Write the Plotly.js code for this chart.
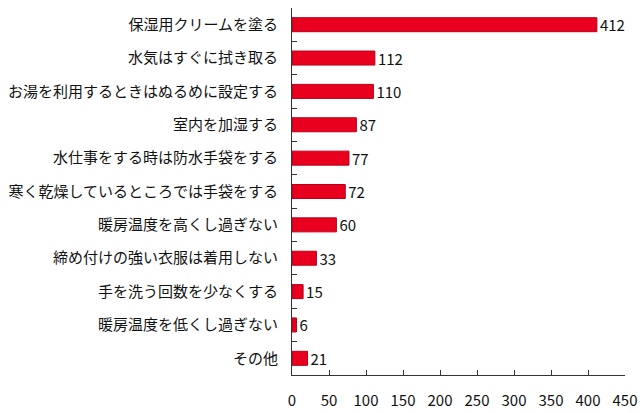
<!DOCTYPE html>
<html>
<head>
<meta charset="utf-8">
<script src="https://cdn.plot.ly/plotly-3.0.1.min.js"></script>
<style>html,body{margin:0;padding:0;background:#fff;}#chart{width:640px;height:413px;}</style>
</head>
<body>
<div id="chart"></div>
<script>
var categories = [
  "保湿用クリームを塗る",
  "水気はすぐに拭き取る",
  "お湯を利用するときはぬるめに設定する",
  "室内を加湿する",
  "水仕事をする時は防水手袋をする",
  "寒く乾燥しているところでは手袋をする",
  "暖房温度を高くし過ぎない",
  "締め付けの強い衣服は着用しない",
  "手を洗う回数を少なくする",
  "暖房温度を低くし過ぎない",
  "その他"
];
var values = [412, 112, 110, 87, 77, 72, 60, 33, 15, 6, 21];
var xTicks = [0, 50, 100, 150, 200, 250, 300, 350, 400, 450];

var font = "Noto Sans CJK JP, sans-serif";

Plotly.newPlot("chart", [{
  type: "bar",
  orientation: "h",
  y: categories,
  x: values,
  text: values.map(String),
  textposition: "outside",
  constraintext: "none",
  cliponaxis: false,
  textfont: {family: font, size: 15, color: "#111"},
  marker: {color: "#E8001E", line: {color: "#B80018", width: 1}},
  hoverinfo: "none"
}], {
  width: 640, height: 413,
  margin: {l: 292, r: 15, t: 8, b: 38},
  paper_bgcolor: "#fff", plot_bgcolor: "#fff",
  bargap: 0.58,
  showlegend: false,
  font: {family: font, size: 15, color: "#111"},
  xaxis: {
    range: [0, 450],
    tickvals: xTicks,
    ticktext: xTicks.map(String),
    ticks: "inside", ticklen: 5, tickcolor: "#333",
    showline: true, linecolor: "#333", linewidth: 1,
    showgrid: false, zeroline: false,
    ticklabelstandoff: 12,
    tickfont: {family: font, size: 15, color: "#111"},
    fixedrange: true
  },
  yaxis: {
    type: "category",
    autorange: "reversed",
    tickson: "boundaries",
    ticks: "inside", ticklen: 5, tickcolor: "#333",
    showline: true, linecolor: "#333", linewidth: 1,
    showgrid: false, zeroline: false,
    ticklabelstandoff: 10,
    tickfont: {family: font, size: 15, color: "#111"},
    fixedrange: true
  }
}, {displayModeBar: false, staticPlot: true});
</script>
</body>
</html>
